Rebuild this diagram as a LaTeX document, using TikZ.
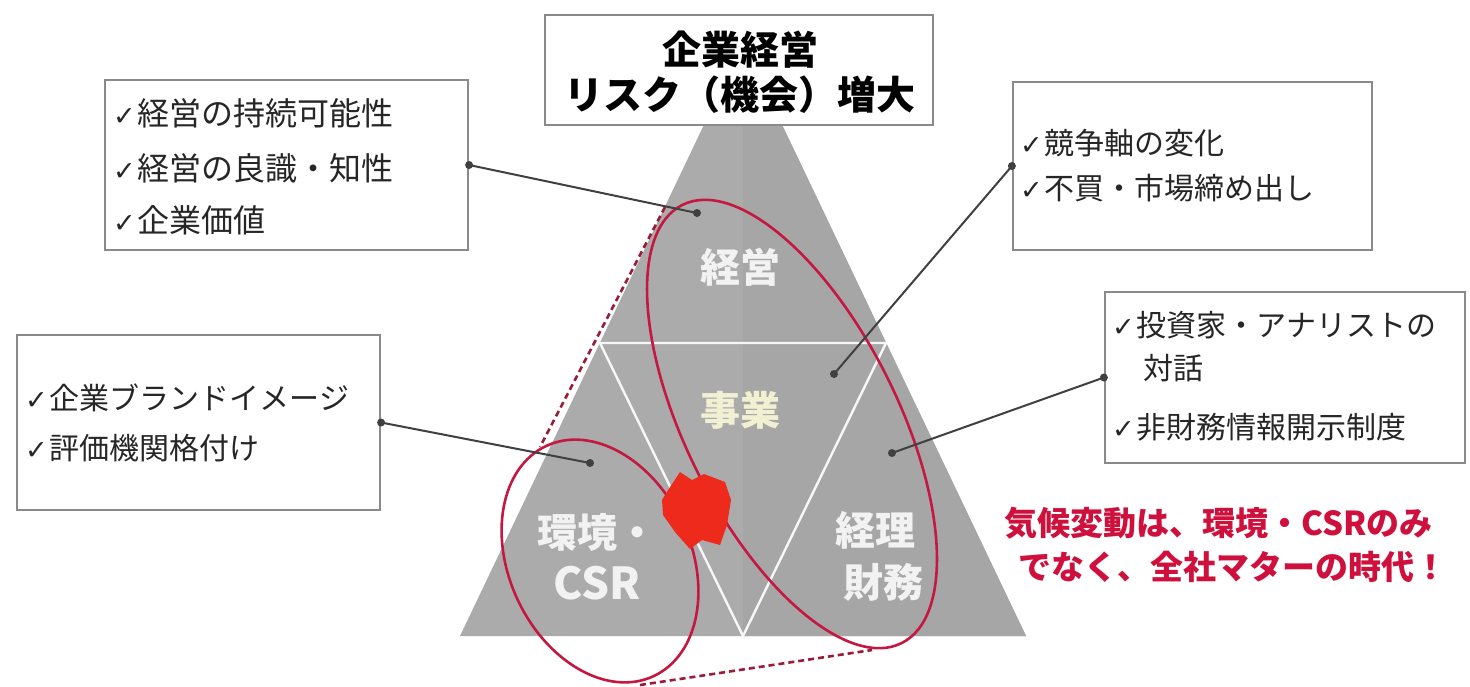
\documentclass[tikz,border=0pt]{standalone}
\usepackage{fontspec}
\usetikzlibrary{shapes.geometric}
\newfontfamily\jp{Noto Sans CJK JP}
\newfontfamily\dv{DejaVu Sans}
\definecolor{triL}{HTML}{ABABAB}
\definecolor{triR}{HTML}{A6A6A6}
\definecolor{ered}{HTML}{C41840}
\definecolor{edash}{HTML}{9A1C38}
\definecolor{conn}{HTML}{404040}
\definecolor{boxb}{HTML}{8A8A8A}
\definecolor{msg}{HTML}{D0103C}
\definecolor{blob}{HTML}{EE2A1C}
\definecolor{lbl}{HTML}{F2F2F2}
\newcommand{\ck}{{\dv\fontsize{27}{27}\selectfont ✓}\hspace{2pt}}
\tikzset{
  box/.style={draw=boxb, line width=2.2pt, fill=white, rectangle, inner sep=0pt},
  txt/.style={anchor=west, inner sep=0pt, font=\jp\fontsize{30}{36}\selectfont, text=black!85},
  tri label/.style={inner sep=0pt, font=\jp\bfseries\fontsize{40}{44}\selectfont, text=lbl},
  inner line/.style={draw=white!94!gray, line width=2.4pt},
  red ell/.style={draw=ered, line width=2.6pt, ellipse, inner sep=0pt, outer sep=0pt},
  red dash/.style={draw=edash, line width=2.6pt, dash pattern=on 6pt off 4pt},
  connector/.style={draw=conn, line width=2pt},
  dot/.style={fill=conn, circle, inner sep=0pt, minimum size=8pt},
}
\begin{document}
\begin{tikzpicture}[x=1pt,y=-1pt]
\useasboundingbox[fill=white] (0,0) rectangle (1470,686);
% pyramid
\coordinate (A) at (743,43);
\coordinate (BL) at (460,636);
\coordinate (BR) at (1026,636);
\coordinate (M) at (743,636);
\fill[triL] (A) -- (BL) -- (BR) -- cycle;
\fill[triR] (A) -- (M) -- (BR) -- cycle;
\coordinate (HL) at (600,343);
\coordinate (HR) at (886,343);
\draw[inner line] (HL) -- (HR) -- (M) -- cycle;
% labels in pyramid
\node[tri label] (keiei) at (740,267) {経営};
\node[tri label, text=white!85!yellow, opacity=0.85] (jigyo) at (740,410) {事業};
\node[tri label] (kankyo) at (597,532) {環境・};
\node[tri label, font=\jp\bfseries\fontsize{44}{48}\selectfont] (csr) at (597,583) {CSR};
\node[tri label] (keiri) at (875,530) {経理};
\node[tri label] (zaimu) at (883,582) {財務};
% ellipses
\node[red ell, minimum width=490pt, minimum height=212pt, rotate=-63.4] (bigE) at (792,424) {};
\node[red ell, minimum width=254pt, minimum height=182pt, rotate=-65] (smallE) at (600,561) {};
% dashed tangents
\coordinate (dt1) at (665,207);
\coordinate (dt2) at (540,447);
\coordinate (db1) at (640,685);
\coordinate (db2) at (872,650);
\draw[red dash] (dt1) -- (dt2);
\draw[red dash] (db1) -- (db2);
% red blob
\fill[blob] (668,490) -- (680,472) -- (692,480) -- (704,474) -- (725,482) -- (731,500) -- (727,525) -- (720,545) -- (702,540) -- (690,549) -- (675,532) -- (663,515) -- (662,500) -- cycle;
% boxes
\node[box, minimum width=388pt, minimum height=110pt] (title) at (739,70) {};
\node[box, minimum width=363pt, minimum height=170pt] (tl) at (286.5,165) {};
\node[box, minimum width=359pt, minimum height=168pt] (tr) at (1192.5,166) {};
\node[box, minimum width=363pt, minimum height=175pt] (lb) at (198.5,422.5) {};
\node[box, minimum width=360pt, minimum height=171pt] (rb) at (1285,377.5) {};
% connector ends
\coordinate (p1) at (697,213);
\coordinate (p2) at (834,374);
\coordinate (p3) at (892,453);
\coordinate (p4) at (590,463);
\draw[connector] (tl.east) -- (p1);
\draw[connector] (tr.west) -- (p2);
\draw[connector] (rb.west) -- (p3);
\draw[connector] (lb.east) -- (p4);
\foreach \p in {tl.east,tr.west,rb.west,lb.east,p1,p2,p3,p4} \node[dot] at (\p) {};
% title text
\node[inner sep=0pt, font=\jp\bfseries\fontsize{39}{44}\selectfont] (t1) at (740,50) {企業経営};
\node[inner sep=0pt, font=\jp\bfseries\fontsize{39}{44}\selectfont] (t2) at (740,95) {リスク（機会）増大};
% box texts
\node[txt, font=\jp\fontsize{32}{36}\selectfont] (tl1) at (113,113) {\ck 経営の持続可能性};
\node[txt, font=\jp\fontsize{32}{36}\selectfont] (tl2) at (113,168) {\ck 経営の良識・知性};
\node[txt, font=\jp\fontsize{32}{36}\selectfont] (tl3) at (113,220) {\ck 企業価値};
\node[txt] (tr1) at (1020,143) {\ck 競争軸の変化};
\node[txt] (tr2) at (1020,188) {\ck 不買・市場締め出し};
\node[txt] (l1) at (25,398) {\ck 企業ブランドイメージ};
\node[txt] (l2) at (25,448) {\ck 評価機関格付け};
\node[txt] (r1) at (1112,325) {\ck 投資家・アナリストの};
\node[txt] (r2) at (1143,368) {対話};
\node[txt] (r3) at (1112,427) {\ck 非財務情報開示制度};
% message
\node[anchor=west, inner sep=0pt, text=msg, font=\jp\bfseries\fontsize{33}{38}\selectfont] (m1) at (1004,523) {気候変動は、環境・CSRのみ};
\node[anchor=west, inner sep=0pt, text=msg, font=\jp\bfseries\fontsize{33}{38}\selectfont] (m2) at (1018,567) {でなく、全社マターの時代！};
\end{tikzpicture}
\end{document}
